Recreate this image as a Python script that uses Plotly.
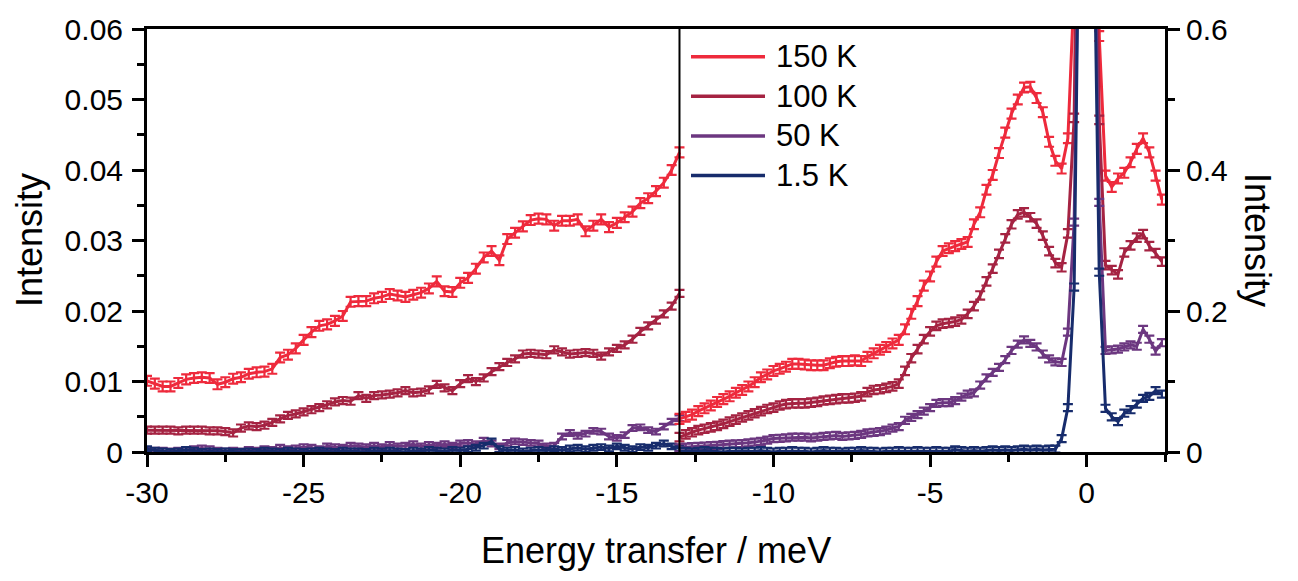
import plotly.graph_objects as go

# ---------------------------------------------------------------------------
# Data: energy-loss spectra at four temperatures.
# Low-energy window (-30 .. -13 meV) uses the left intensity scale,
# high-energy window (-13 .. 2.5 meV) uses the right intensity scale.
# ---------------------------------------------------------------------------
temperatures = ["150 K", "100 K", "50 K", "1.5 K"]
colors = ["#EE2A3C", "#A52342", "#6C3780", "#172C6C"]

energy_low = [
    -30.00, -29.75, -29.50, -29.25, -29.00, -28.75, -28.50, -28.25, -28.00, -27.75,
    -27.50, -27.25, -27.00, -26.75, -26.50, -26.25, -26.00, -25.75, -25.50, -25.25,
    -25.00, -24.75, -24.50, -24.25, -24.00, -23.75, -23.50, -23.25, -23.00, -22.75,
    -22.50, -22.25, -22.00, -21.75, -21.50, -21.25, -21.00, -20.75, -20.50, -20.25,
    -20.00, -19.75, -19.50, -19.25, -19.00, -18.75, -18.50, -18.25, -18.00, -17.75,
    -17.50, -17.25, -17.00, -16.75, -16.50, -16.25, -16.00, -15.75, -15.50, -15.25,
    -15.00, -14.75, -14.50, -14.25, -14.00, -13.75, -13.50, -13.25, -13.00,
]

low_150K = [
    0.0101, 0.0097, 0.0093, 0.0093, 0.0098, 0.0103, 0.0105, 0.0106, 0.0105, 0.0096,
    0.0099, 0.0104, 0.0106, 0.0111, 0.0113, 0.0114, 0.0118, 0.0134, 0.0138, 0.0147,
    0.0159, 0.0170, 0.0179, 0.0181, 0.0186, 0.0193, 0.0213, 0.0214, 0.0214, 0.0218,
    0.0220, 0.0224, 0.0222, 0.0220, 0.0223, 0.0226, 0.0232, 0.0242, 0.0228, 0.0227,
    0.0240, 0.0247, 0.0260, 0.0276, 0.0285, 0.0272, 0.0302, 0.0311, 0.0320, 0.0329,
    0.0331, 0.0330, 0.0321, 0.0328, 0.0328, 0.0330, 0.0313, 0.0321, 0.0330, 0.0319,
    0.0325, 0.0333, 0.0341, 0.0353, 0.0360, 0.0370, 0.0382, 0.0400, 0.0425,
]
low_100K = [
    0.0031, 0.0031, 0.0031, 0.0031, 0.0030, 0.0031, 0.0031, 0.0031, 0.0030, 0.0030,
    0.0029, 0.0027, 0.0034, 0.0037, 0.0036, 0.0038, 0.0042, 0.0047, 0.0052, 0.0054,
    0.0057, 0.0060, 0.0063, 0.0067, 0.0071, 0.0073, 0.0072, 0.0080, 0.0076, 0.0080,
    0.0081, 0.0082, 0.0084, 0.0087, 0.0084, 0.0085, 0.0088, 0.0096, 0.0091, 0.0087,
    0.0097, 0.0104, 0.0100, 0.0105, 0.0114, 0.0121, 0.0127, 0.0132, 0.0139, 0.0140,
    0.0139, 0.0138, 0.0145, 0.0142, 0.0139, 0.0140, 0.0141, 0.0140, 0.0136, 0.0142,
    0.0147, 0.0152, 0.0160, 0.0171, 0.0179, 0.0187, 0.0196, 0.0207, 0.0225,
]
low_50K = [
    0.0003, 0.0002, 0.0002, 0.0001, 0.0002, 0.0003, 0.0004, 0.0005, 0.0004, 0.0002,
    0.0001, 0.0002, 0.0001, 0.0003, 0.0002, 0.0004, 0.0003, 0.0006, 0.0004, 0.0005,
    0.0007, 0.0006, 0.0004, 0.0008, 0.0007, 0.0006, 0.0009, 0.0008, 0.0007, 0.0009,
    0.0007, 0.0010, 0.0008, 0.0009, 0.0011, 0.0008, 0.0010, 0.0009, 0.0011, 0.0009,
    0.0012, 0.0013, 0.0011, 0.0016, 0.0012, 0.0008, 0.0013, 0.0015, 0.0014, 0.0013,
    0.0012, 0.0008, 0.0009, 0.0022, 0.0027, 0.0023, 0.0026, 0.0030, 0.0029, 0.0022,
    0.0020, 0.0024, 0.0034, 0.0035, 0.0031, 0.0029, 0.0036, 0.0043, 0.0048,
]
low_1p5K = [
    0.0004, 0.0002, 0.0001, 0.0000, 0.0001, 0.0003, 0.0002, 0.0000, 0.0001, 0.0000,
    0.0001, 0.0000, 0.0000, 0.0001, 0.0000, 0.0002, 0.0001, 0.0000, 0.0002, 0.0001,
    0.0000, 0.0001, 0.0002, 0.0001, 0.0000, 0.0002, 0.0001, 0.0001, 0.0000, 0.0002,
    0.0001, 0.0002, 0.0001, 0.0000, 0.0002, 0.0001, 0.0003, 0.0002, 0.0001, 0.0003,
    0.0002, 0.0004, 0.0006, 0.0009, 0.0015, 0.0004, 0.0002, 0.0003, 0.0001, 0.0002,
    0.0003, 0.0002, 0.0004, 0.0003, 0.0005, 0.0006, 0.0004, 0.0006, 0.0007, 0.0005,
    0.0008, 0.0006, 0.0004, 0.0007, 0.0006, 0.0009, 0.0012, 0.0008, 0.0006,
]

energy_high = [
    -13.0, -12.8, -12.6, -12.4, -12.2, -12.0, -11.8, -11.6, -11.4, -11.2,
    -11.0, -10.8, -10.6, -10.4, -10.2, -10.0, -9.8, -9.6, -9.4, -9.2,
    -9.0, -8.8, -8.6, -8.4, -8.2, -8.0, -7.8, -7.6, -7.4, -7.2,
    -7.0, -6.8, -6.6, -6.4, -6.2, -6.0, -5.8, -5.6, -5.4, -5.2,
    -5.0, -4.8, -4.6, -4.4, -4.2, -4.0, -3.8, -3.6, -3.4, -3.2,
    -3.0, -2.8, -2.6, -2.4, -2.2, -2.0, -1.8, -1.6, -1.4, -1.2,
    -1.0, -0.8, -0.6, -0.4, -0.2, 0.0, 0.2, 0.4, 0.6, 0.8,
    1.0, 1.2, 1.4, 1.6, 1.8, 2.0, 2.2, 2.4,
]

high_150K = [
    0.047, 0.050, 0.053, 0.058, 0.062, 0.066, 0.071, 0.075, 0.079, 0.084,
    0.088, 0.093, 0.099, 0.106, 0.110, 0.115, 0.118, 0.121, 0.125, 0.125,
    0.124, 0.123, 0.123, 0.123, 0.126, 0.128, 0.129, 0.129, 0.130, 0.129,
    0.135, 0.140, 0.145, 0.149, 0.154, 0.159, 0.174, 0.196, 0.214, 0.236,
    0.249, 0.270, 0.285, 0.289, 0.292, 0.295, 0.298, 0.323, 0.340, 0.372,
    0.393, 0.424, 0.453, 0.480, 0.500, 0.517, 0.518, 0.502, 0.482, 0.440,
    0.413, 0.402, 0.445, 0.660, 1.800, 3.500, 1.600, 0.590, 0.392, 0.376,
    0.388, 0.396, 0.411, 0.430, 0.445, 0.425, 0.392, 0.358,
]
high_100K = [
    0.021, 0.025, 0.028, 0.031, 0.033, 0.035, 0.037, 0.040, 0.043, 0.046,
    0.049, 0.052, 0.055, 0.058, 0.061, 0.063, 0.066, 0.068, 0.069, 0.069,
    0.069, 0.070, 0.071, 0.073, 0.074, 0.075, 0.076, 0.076, 0.077, 0.079,
    0.085, 0.088, 0.089, 0.091, 0.093, 0.097, 0.115, 0.133, 0.146, 0.160,
    0.171, 0.179, 0.182, 0.183, 0.185, 0.188, 0.196, 0.207, 0.222, 0.242,
    0.260, 0.281, 0.303, 0.323, 0.337, 0.340, 0.333, 0.324, 0.307, 0.285,
    0.268, 0.262, 0.310, 0.474, 1.200, 2.400, 1.100, 0.471, 0.265, 0.258,
    0.252, 0.283, 0.293, 0.304, 0.309, 0.292, 0.282, 0.270,
]
high_50K = [
    0.006, 0.007, 0.0075, 0.008, 0.0085, 0.009, 0.0095, 0.0104, 0.011, 0.0115,
    0.012, 0.013, 0.014, 0.015, 0.017, 0.019, 0.0195, 0.020, 0.021, 0.021,
    0.021, 0.020, 0.021, 0.022, 0.023, 0.0235, 0.022, 0.023, 0.0235, 0.025,
    0.027, 0.028, 0.029, 0.031, 0.034, 0.036, 0.045, 0.049, 0.053, 0.058,
    0.063, 0.069, 0.070, 0.070, 0.073, 0.078, 0.082, 0.084, 0.095, 0.105,
    0.113, 0.120, 0.131, 0.144, 0.153, 0.159, 0.154, 0.149, 0.139, 0.132,
    0.128, 0.127, 0.170, 0.326, 0.950, 1.900, 0.900, 0.354, 0.144, 0.145,
    0.146, 0.149, 0.152, 0.150, 0.174, 0.160, 0.143, 0.155,
]
high_1p5K = [
    0.001, 0.001, 0.000, 0.001, 0.002, 0.001, 0.001, 0.000, 0.001, 0.001,
    0.000, 0.001, 0.001, 0.002, 0.001, 0.000, 0.001, 0.001, 0.002, 0.001,
    0.001, 0.000, 0.001, 0.002, 0.001, 0.001, 0.000, 0.001, 0.001, 0.002,
    0.001, 0.001, 0.000, 0.001, 0.001, 0.002, 0.001, 0.001, 0.002, 0.001,
    0.001, 0.002, 0.001, 0.001, 0.003, 0.002, 0.001, 0.002, 0.001, 0.002,
    0.003, 0.002, 0.003, 0.002, 0.003, 0.004, 0.003, 0.004, 0.003, 0.004,
    0.004, 0.019, 0.063, 0.234, 0.950, 1.800, 0.850, 0.255, 0.062, 0.050,
    0.043, 0.055, 0.060, 0.068, 0.076, 0.079, 0.087, 0.082,
]

low_series = [low_150K, low_100K, low_50K, low_1p5K]
high_series = [high_150K, high_100K, high_50K, high_1p5K]
low_err = [0.0007, 0.0005, 0.0004, 0.0004]
high_err = [0.007, 0.006, 0.005, 0.005]

x_ticks = [-30, -25, -20, -15, -10, -5, 0]
x_labels = ["-30", "-25", "-20", "-15", "-10", "-5", "0"]
left_ticks = [0, 0.01, 0.02, 0.03, 0.04, 0.05, 0.06]
left_labels = ["0", "0.01", "0.02", "0.03", "0.04", "0.05", "0.06"]
right_ticks = [0, 0.2, 0.4, 0.6]
right_labels = ["0", "0.2", "0.4", "0.6"]

# ---------------------------------------------------------------------------
FONT = "Liberation Sans, Arial, sans-serif"
W, H = 1298, 581
ML, MR, MT, MB = 147, 133, 25, 129
PW, PH = W - ML - MR, H - MT - MB


def px_x(px):
    return (px - ML) / PW


def px_y(py):
    return (H - MB - py) / PH


fig = go.Figure()
for name, col, lo, hi, el, eh in zip(temperatures, colors, low_series,
                                     high_series, low_err, high_err):
    fig.add_trace(go.Scatter(
        x=energy_low, y=lo, yaxis="y", mode="lines", name=name,
        line=dict(color=col, width=3), showlegend=False,
        error_y=dict(type="constant", value=el, color=col, thickness=2.2, width=5),
    ))
    fig.add_trace(go.Scatter(
        x=energy_high, y=hi, yaxis="y2", mode="lines", name=name,
        line=dict(color=col, width=3), showlegend=False,
        error_y=dict(type="constant", value=eh, color=col, thickness=2.2, width=5),
    ))

axis_common = dict(
    showline=True, linecolor="black", linewidth=3,
    ticks="outside", ticklen=12, tickwidth=3, tickcolor="black",
    showgrid=False, zeroline=False,
    tickfont=dict(family=FONT, size=30, color="black"),
)

fig.update_layout(
    width=W, height=H,
    margin=dict(l=ML, r=MR, t=MT, b=MB),
    paper_bgcolor="white", plot_bgcolor="white",
    font=dict(family=FONT, color="black"),
    showlegend=False,
    xaxis=dict(
        range=[-30, 2.5], tickvals=x_ticks, ticktext=x_labels, mirror=True,
        minor=dict(dtick=2.5, tick0=0, ticks="outside", ticklen=7,
                   tickwidth=3, tickcolor="black", showgrid=False),
        **axis_common,
    ),
    yaxis=dict(
        range=[0, 0.06], tickvals=left_ticks, ticktext=left_labels,
        ticklabelstandoff=3,
        minor=dict(dtick=0.005, tick0=0, ticks="outside", ticklen=7,
                   tickwidth=3, tickcolor="black", showgrid=False),
        **axis_common,
    ),
    yaxis2=dict(
        range=[0, 0.6], tickvals=right_ticks, ticktext=right_labels,
        overlaying="y", side="right",
        minor=dict(dtick=0.1, tick0=0, ticks="outside", ticklen=7,
                   tickwidth=3, tickcolor="black", showgrid=False),
        **axis_common,
    ),
)

# divider between the two intensity scales
fig.add_shape(type="line", xref="x", yref="paper", x0=-13, x1=-13, y0=0, y1=1,
              line=dict(color="black", width=2))

# axis titles
title_font = dict(family=FONT, size=36, color="black")
fig.add_annotation(text="Energy transfer / meV", xref="paper", yref="paper",
                   x=0.5, y=px_y(551), xanchor="center", yanchor="middle",
                   showarrow=False, font=title_font)
fig.add_annotation(text="Intensity", xref="paper", yref="paper",
                   x=px_x(29), y=px_y(238), xanchor="center", yanchor="middle",
                   textangle=-90, showarrow=False, font=title_font)
fig.add_annotation(text="Intensity", xref="paper", yref="paper",
                   x=px_x(1258), y=px_y(238), xanchor="center", yanchor="middle",
                   textangle=90, showarrow=False, font=title_font)

# legend
legend_rows = [53, 93, 133, 173]
for name, col, row in zip(temperatures, colors, legend_rows):
    fig.add_shape(type="line", xref="paper", yref="paper",
                  x0=px_x(691), x1=px_x(765), y0=px_y(row), y1=px_y(row),
                  line=dict(color=col, width=3.5))
    fig.add_annotation(text=name, xref="paper", yref="paper",
                       x=px_x(774), y=px_y(row), xanchor="left", yanchor="middle",
                       showarrow=False,
                       font=dict(family=FONT, size=31, color="black"))

fig.write_html("out.html")
